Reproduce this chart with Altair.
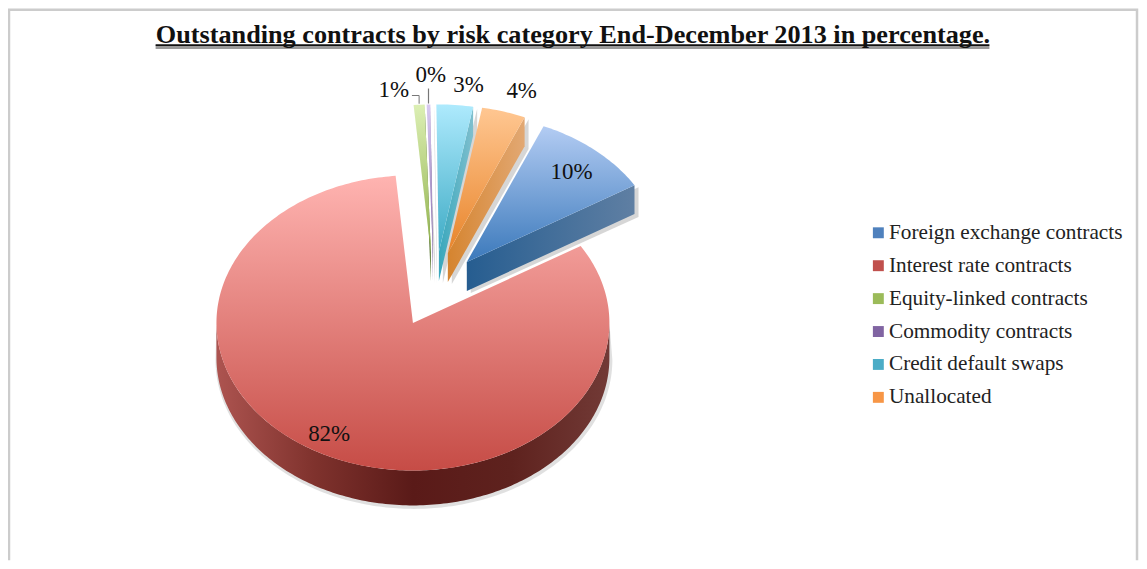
import math
import altair as alt
import pandas as pd

TITLE = "Outstanding contracts by risk category End-December 2013 in percentage."
categories = ["Foreign exchange contracts", "Interest rate contracts", "Equity-linked contracts",
              "Commodity contracts", "Credit default swaps", "Unallocated"]
shares = [9.9, 82.4, 0.9, 0.3, 3.0, 3.6]
legend_colors = ["#4f81bd", "#c0504d", "#9bbb59", "#8064a2", "#4bacc6", "#f79646"]

# pie projection (clock degrees, tilted ellipse)
A, B, DEPTH = 197, 148, 35
START = 23.0
tips = {0: (468, 262), 1: (414, 323), 2: (432, 252), 3: (434, 252), 4: (440, 252), 5: (449, 253)}
label_polar = {0: (41.2, .81), 1: (209.6, .863), 2: (-9.7, 1.117), 3: (-0.5, 1.203), 4: (7.6, 1.145), 5: (18.9, 1.16)}
top_grad = {0: ("#b3ccf3", "#3b79bb"), 1: ("#ffb4b1", "#c64c46"), 2: ("#dcefb4", "#8fb04a"),
            3: ("#d8caf0", "#8a70b0"), 4: ("#aeeafd", "#3caac4"), 5: ("#ffc792", "#e8842a")}
side_grad = {0: ("#265d90", "#5f7fa3"), 2: ("#47632a", "#5c7a33"), 3: ("#5e4585", "#6a4e90"),
             4: ("#39a7bc", "#7fbfce"), 5: ("#d5842f", "#e2a873")}
XDOM, YDOM = [8, 1142], [561, 8]

total = sum(shares)
spans = {}
a = START
for i, s in enumerate(shares):
    d = s / total * 360
    spans[i] = (a, a + d)
    a += d


def pt(c, ang, k=1.0):
    r = math.radians(ang)
    return (c[0] + A * k * math.sin(r), c[1] - B * k * math.cos(r))


def arc(c, a0, a1, k=1.0):
    n = max(2, int(abs(a1 - a0)) + 1)
    return [pt(c, a0 + (a1 - a0) * j / (n - 1), k) for j in range(n)]


xs = alt.Scale(domain=XDOM, nice=False, zero=False)
ys = alt.Scale(domain=YDOM, nice=False, zero=False)


def grad(c0, c1, horizontal=False):
    return alt.Gradient(gradient="linear", x1=0, y1=0, x2=1 if horizontal else 0, y2=0 if horizontal else 1,
                        stops=[alt.GradientStop(offset=0, color=c0), alt.GradientStop(offset=1, color=c1)])


def face(points, fill, opacity=1.0):
    df = pd.DataFrame({"x": [p[0] for p in points], "y": [p[1] for p in points], "i": range(len(points))})
    return alt.Chart(df).mark_line(fill=fill, strokeWidth=0, strokeOpacity=0, opacity=opacity, clip=True).encode(
        x=alt.X("x:Q", scale=xs, axis=None), y=alt.Y("y:Q", scale=ys, axis=None), order="i:Q")


def seg(points, color, width):
    df = pd.DataFrame({"x": [p[0] for p in points], "y": [p[1] for p in points], "i": range(len(points))})
    return alt.Chart(df).mark_line(color=color, strokeWidth=width).encode(
        x=alt.X("x:Q", scale=xs, axis=None), y=alt.Y("y:Q", scale=ys, axis=None), order="i:Q")


layers = []
# frame
layers.append(seg([(9, 561), (9, 9), (1140, 9), (1140, 561)], "#cccccc", 2.5))

# main slice
c = tips[1]
a0, a1 = spans[1]
front = arc(c, 90, 270)
depth_pts = front + [(x, y + DEPTH) for x, y in reversed(front)]
shadow = arc((c[0] + 1, c[1] + DEPTH + 2), 90, 270, 1.01)
layers.append(face(front + shadow[::-1], "#999999", .3))
main_side = alt.Gradient(gradient="linear", x1=0, y1=0, x2=1, y2=0, stops=[
    alt.GradientStop(offset=0, color="#ad5450"), alt.GradientStop(offset=.25, color="#7f322d"),
    alt.GradientStop(offset=.5, color="#5a1a18"), alt.GradientStop(offset=.75, color="#5e221e"),
    alt.GradientStop(offset=1, color="#723a36")])
layers.append(face(depth_pts, main_side))
layers.append(face([c] + arc(c, a0, a1), grad(*top_grad[1])))

# exploded slices, back to front
for i in [2, 3, 4, 5, 0]:
    c = tips[i]
    a0, a1 = spans[i]
    end = pt(c, a1)
    side = [c, end, (end[0], end[1] + 29), (c[0], c[1] + 29)]
    sh = [(c[0] + 4, c[1] + 2), (end[0] + 4, end[1] + 2), (end[0] + 4, end[1] + 32), (c[0] + 4, c[1] + 31)]
    layers.append(face(sh, "#999999", .4))
    layers.append(face(side, grad(*side_grad[i], True)))
    layers.append(face([c] + arc(c, a0, a1), grad(*top_grad[i])))

# leader lines
m2 = pt(tips[2], sum(spans[2]) / 2)
m3 = pt(tips[3], sum(spans[3]) / 2)
layers.append(seg([(m2[0], m2[1] - 1), (m2[0], 95), (413, 95)], "#777777", 1))
layers.append(seg([(m3[0], m3[1] - 1), (m3[0], 88)], "#777777", 1.2))

# percentage labels
rows = []
for i, s in enumerate(shares):
    ang, k = label_polar[i]
    x, y = pt(tips[i], ang, k)
    rows.append({"x": x, "y": y, "lab": f"{round(s + 1e-9):d}%"})
layers.append(alt.Chart(pd.DataFrame(rows)).mark_text(font="Liberation Serif", fontSize=23, color="#111111",
                                                     baseline="middle", align="center").encode(
    x=alt.X("x:Q", scale=xs, axis=None), y=alt.Y("y:Q", scale=ys, axis=None), text="lab:N"))

# title underline and title
layers.append(seg([(156, 46.5), (992, 46.5)], "#9a9a9a", 3.5))
layers.append(seg([(156, 44.5), (992, 44.5)], "#111111", 1.6))
layers.append(alt.Chart(pd.DataFrame({"x": [574.5], "y": [42], "t": [TITLE]})).mark_text(
    font="Liberation Serif", fontSize=26.3, fontWeight="bold", color="#111111", baseline="alphabetic", align="center"
).encode(x=alt.X("x:Q", scale=xs, axis=None), y=alt.Y("y:Q", scale=ys, axis=None), text="t:N"))

# legend carrier
leg_df = pd.DataFrame({"cat": categories, "x": [tips[i][0] for i in range(6)], "y": [tips[i][1] for i in range(6)]})
layers.append(alt.Chart(leg_df).mark_square(opacity=0, size=10).encode(
    x=alt.X("x:Q", scale=xs, axis=None), y=alt.Y("y:Q", scale=ys, axis=None),
    color=alt.Color("cat:N", scale=alt.Scale(domain=categories, range=legend_colors), sort=categories,
                    legend=alt.Legend(title=None, orient="none", legendX=862, legendY=214, symbolType="square",
                                      symbolSize=120, symbolOpacity=1, symbolStrokeWidth=0,
                                      labelFont="Liberation Serif", labelFontSize=21.3, labelColor="#222222",
                                      labelLimit=300, rowPadding=11, labelOffset=0))))

chart = alt.layer(*layers).properties(
    width=1134, height=553, padding=0, autosize=alt.AutoSizeParams(type="none"),
).configure_view(stroke=None)

chart.save("out.html", embed_options={"renderer": "svg", "actions": False})
